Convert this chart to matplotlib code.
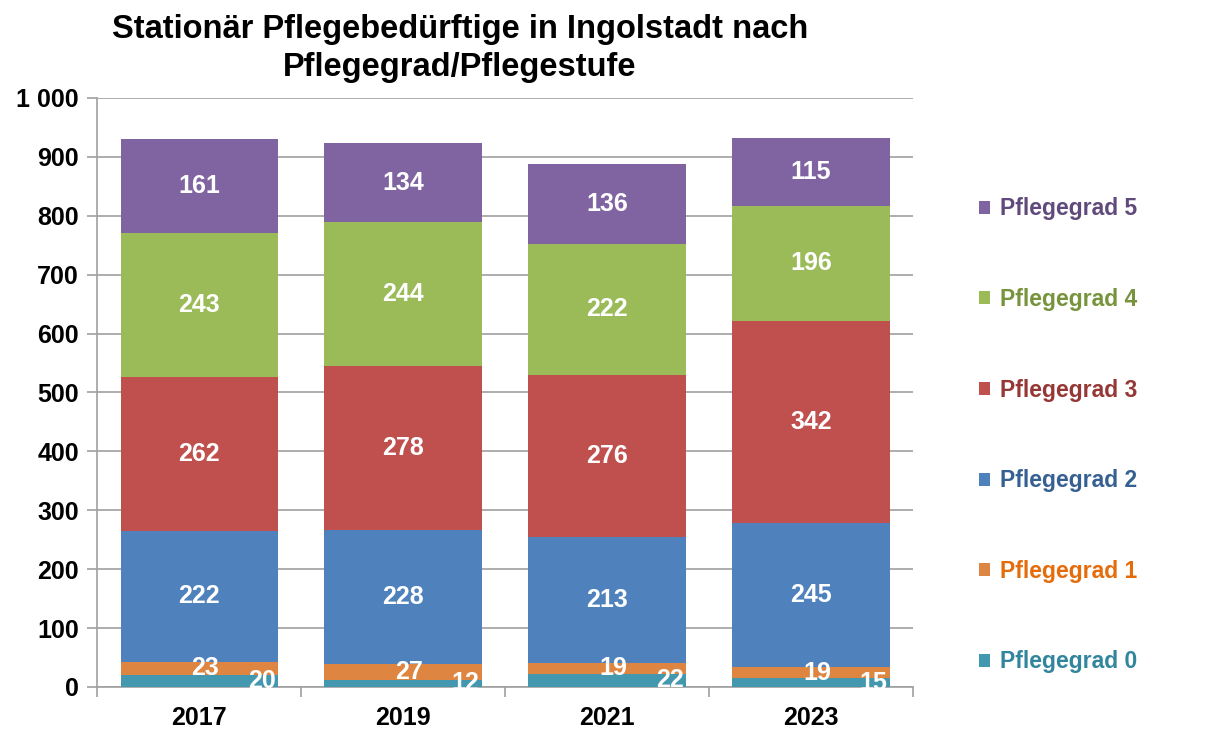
import matplotlib
matplotlib.use("Agg")
from matplotlib import pyplot as plt
from matplotlib.ticker import FuncFormatter

years = ["2017", "2019", "2021", "2023"]
series_names = ["Pflegegrad 0", "Pflegegrad 1", "Pflegegrad 2",
                "Pflegegrad 3", "Pflegegrad 4", "Pflegegrad 5"]
pg0 = [20, 12, 22, 15]
pg1 = [23, 27, 19, 19]
pg2 = [222, 228, 213, 245]
pg3 = [262, 278, 276, 342]
pg4 = [243, 244, 222, 196]
pg5 = [161, 134, 136, 115]

bar_colors = ["#4398B0", "#DD8541", "#4F81BD", "#C0504D", "#9BBB59", "#8064A2"]
text_colors = ["#31859C", "#E46C0A", "#376092", "#953735", "#77933C", "#604A7B"]

plt.rcParams['font.family'] = ['Liberation Sans', 'DejaVu Sans']
plt.rcParams['font.weight'] = 'bold'

fig = plt.figure(figsize=(12.07, 7.45), dpi=100)
ax = fig.add_axes([0.0804, 0.0779, 0.676, 0.7906])

x = list(range(len(years)))
width = 0.77
bottoms = [0] * len(years)
bars = []
for name, vals, col in zip(series_names, [pg0, pg1, pg2, pg3, pg4, pg5], bar_colors):
    b = ax.bar(x, vals, width, bottom=bottoms, color=col, label=name, zorder=3)
    bars.append(b)
    for i, v in enumerate(vals):
        mid = bottoms[i] + v / 2
        if name == "Pflegegrad 0":
            ax.text(x[i] + width / 2 - 0.01, mid, str(v), ha="right", va="center",
                    color="white", fontsize=18, fontweight="bold", zorder=5)
        else:
            ax.text(x[i] + (0.03 if name == "Pflegegrad 1" else 0), mid, str(v),
                    ha="center", va="center", color="white", fontsize=18,
                    fontweight="bold", zorder=5)
    bottoms = [bt + v for bt, v in zip(bottoms, vals)]

ax.set_ylim(0, 1000)
ax.set_xlim(-0.5, 3.5)
ax.set_yticks(range(0, 1001, 100))
ax.yaxis.set_major_formatter(FuncFormatter(lambda v, p: "{:,}".format(int(v)).replace(",", " ")))
ax.grid(axis="y", color="#A0A0A0", linewidth=1.2, zorder=0)
ax.set_xticks(x)
ax.set_xticklabels(years)
ax.set_xticks([-0.5, 0.5, 1.5, 2.5, 3.5], minor=True)
ax.tick_params(axis="x", which="major", length=0, pad=14, labelsize=18)
ax.tick_params(axis="x", which="minor", length=7, color="#A0A0A0", width=1.2)
ax.tick_params(axis="y", length=7, color="#A0A0A0", width=1.2, labelsize=18, pad=6)
for s in ["top", "right"]:
    ax.spines[s].set_visible(False)
for s in ["left", "bottom"]:
    ax.spines[s].set_color("#A0A0A0")
    ax.spines[s].set_linewidth(1.2)

fig.text(0.381, 0.935, "Stationär Pflegebedürftige in Ingolstadt nach\nPflegegrad/Pflegestufe",
         ha="center", va="center", fontsize=23.5, fontweight="bold", linespacing=1.3)

handles = [b.patches[0] for b in bars][::-1]
labels = series_names[::-1]
fig.legend(handles, labels, loc="upper left", bbox_to_anchor=(0.811, 0.735),
           frameon=False, fontsize=16.5, labelcolor=text_colors[::-1],
           handlelength=0.5, handleheight=0.5, handletextpad=0.4,
           labelspacing=2.95, borderaxespad=0, borderpad=0)

fig.savefig("out.png", dpi=100)
